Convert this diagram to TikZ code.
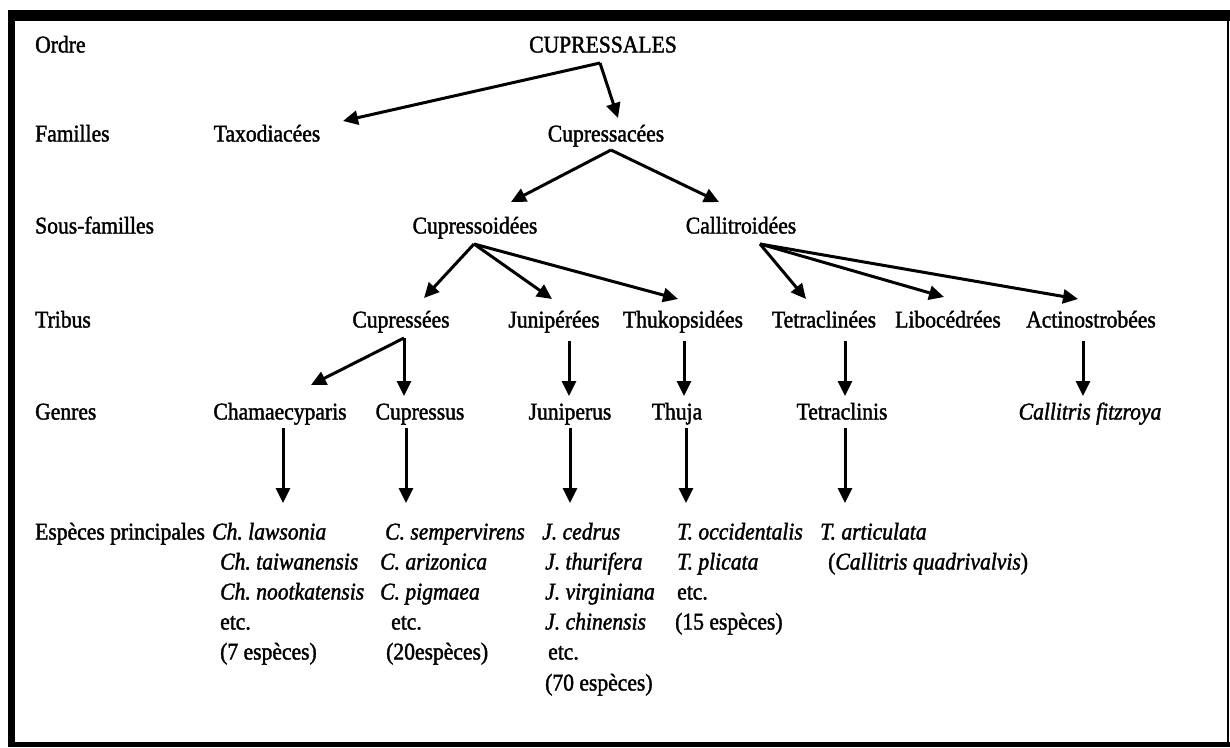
\documentclass[tikz,border=0pt]{standalone}
\usepackage{fontspec}
\setmainfont{Liberation Serif}[FakeStretch=0.9, FakeBold=1.6]
\usetikzlibrary{arrows.meta}
\begin{document}
\frenchspacing
\begin{tikzpicture}[x=1pt,y=-1pt,
  txt/.style={inner sep=0pt, text height=16pt, text depth=1pt, font=\fontsize{24}{28}\selectfont\frenchspacing},
  rowlbl/.style={txt, anchor=west},
  sp/.style={txt, anchor=west, font=\fontsize{24}{28}\selectfont\itshape\frenchspacing},
  spl/.style={txt, anchor=west},
  arr/.style={line width=3pt, -{Triangle[length=15pt,width=14pt]}},
  band/.style={fill=black}]
\useasboundingbox (0,0) rectangle (1230,747);
% frame
\fill[band] (8,10) rectangle (1230,21);
\fill[band] (8,10) rectangle (15,747);
\fill[band] (8,742) rectangle (1230,747);
\fill[band] (1227,10) rectangle (1229,747);
% row labels
\node[rowlbl] (lOrdre) at (35,45) {Ordre};
\node[rowlbl] (lFam) at (35,134) {Familles};
\node[rowlbl] (lSous) at (35,226) {Sous-familles};
\node[rowlbl] (lTrib) at (35,320) {Tribus};
\node[rowlbl] (lGen) at (35,412) {Genres};
\node[rowlbl] (lEsp) at (35,532) {Espèces principales};
% tree nodes
\node[txt] (cupressales) at (603,45) {CUPRESSALES};
\node[txt] (taxo) at (267,134) {Taxodiacées};
\node[txt] (cupressacees) at (606,134) {Cupressacées};
\node[txt] (cupressoidees) at (475,226) {Cupressoidées};
\node[txt] (callitroidees) at (741,226) {Callitroidées};
\node[txt] (cupressees) at (401,320) {Cupressées};
\node[txt] (juniperees) at (554,320) {Junipérées};
\node[txt] (thuko) at (683,320) {Thukopsidées};
\node[txt] (tetraclinees) at (824,320) {Tetraclinées};
\node[txt] (libo) at (948,320) {Libocédrées};
\node[txt] (actino) at (1091,320) {Actinostrobées};
\node[txt] (chamae) at (280,412) {Chamaecyparis};
\node[txt] (cupressus) at (420,412) {Cupressus};
\node[txt] (juniperus) at (570,412) {Juniperus};
\node[txt] (thuja) at (677,412) {Thuja};
\node[txt] (tetraclinis) at (842,412) {Tetraclinis};
\node[txt, font=\fontsize{24}{28}\selectfont\itshape] (callitris) at (1090,412) {Callitris fitzroya};
% species
\node[sp] (ch1) at (212,532) {Ch. lawsonia};
\node[sp] (ch2) at (220,562) {Ch. taiwanensis};
\node[sp] (ch3) at (220,592) {Ch. nootkatensis};
\node[spl] (ch4) at (220,622) {etc.};
\node[spl] (ch5) at (220,652) {(7 espèces)};
\node[sp] (c1) at (385,532) {C. sempervirens};
\node[sp] (c2) at (380,562) {C. arizonica};
\node[sp] (c3) at (380,592) {C. pigmaea};
\node[spl] (c4) at (391,622) {etc.};
\node[spl] (c5) at (386,652) {(20espèces)};
\node[sp] (j1) at (542,532) {J. cedrus};
\node[sp] (j2) at (545,562) {J. thurifera};
\node[sp] (j3) at (545,592) {J. virginiana};
\node[sp] (j4) at (545,622) {J. chinensis};
\node[spl] (j5) at (548,652) {etc.};
\node[spl] (j6) at (545,683) {(70 espèces)};
\node[sp] (t1) at (677,532) {T. occidentalis};
\node[sp] (t2) at (677,562) {T. plicata};
\node[spl] (t3) at (677,592) {etc.};
\node[spl] (t4) at (675,622) {(15 espèces)};
\node[sp] (ta1) at (820,532) {T. articulata};
\node[spl] (ta2) at (828,562) {(\textit{Callitris quadrivalvis})};
% connector points
\coordinate (a0) at (600,63);
\coordinate (a0l) at (343,121);
\coordinate (a0r) at (618,118);
\coordinate (a1) at (611,150);
\coordinate (a1l) at (511,202);
\coordinate (a1r) at (719,202);
\coordinate (a2) at (474,244);
\coordinate (a2a) at (424,298);
\coordinate (a2b) at (552,299);
\coordinate (a2c) at (678,299);
\coordinate (a3) at (760,244);
\coordinate (a3a) at (806,299);
\coordinate (a3b) at (944,297);
\coordinate (a3c) at (1078,299);
\coordinate (a4) at (404,338);
\coordinate (a4l) at (311,385);
\coordinate (a4r) at (404,396);
% connectors
\draw[arr] (a0) -- (a0l);
\draw[arr] (a0) -- (a0r);
\draw[arr] (a1) -- (a1l);
\draw[arr] (a1) -- (a1r);
\draw[arr] (a2) -- (a2a);
\draw[arr] (a2) -- (a2b);
\draw[arr] (a2) -- (a2c);
\draw[arr] (a3) -- (a3a);
\draw[arr] (a3) -- (a3b);
\draw[arr] (a3) -- (a3c);
\draw[arr] (a4) -- (a4l);
\draw[arr] (a4) -- (a4r);
\foreach \x/\n in {569/jv, 684/tv, 845/tcv, 1083/av}{
  \coordinate (\n s) at (\x,341);
  \coordinate (\n e) at (\x,396);
  \draw[arr] (\n s) -- (\n e);
}
\foreach \x/\n in {283/g1, 406/g2, 570/g3, 686/g4, 845/g5}{
  \coordinate (\n s) at (\x,428);
  \coordinate (\n e) at (\x,503);
  \draw[arr] (\n s) -- (\n e);
}
\end{tikzpicture}
\end{document}
